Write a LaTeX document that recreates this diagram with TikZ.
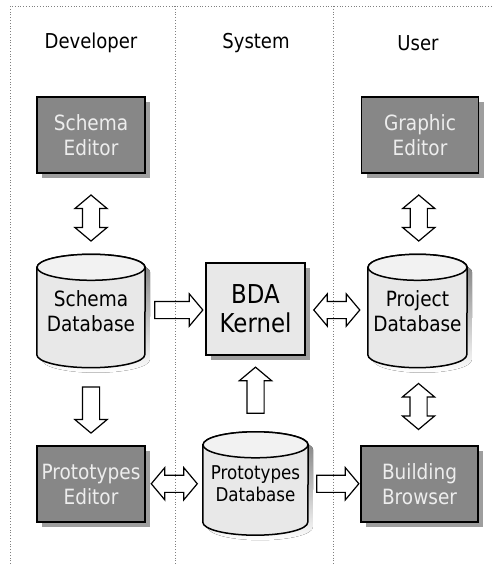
\documentclass[tikz,border=0pt]{standalone}
\usepackage{fontspec}
\setmainfont{DejaVu Sans}[FakeStretch=0.88]
\usetikzlibrary{shapes.arrows,shadows,calc}
\pgfdeclarelayer{background}
\pgfsetlayers{background,main}

\definecolor{boxdark}{gray}{0.53}
\definecolor{boxlight}{gray}{0.91}
\definecolor{boxtop}{gray}{0.95}
\definecolor{shade}{gray}{0.62}
\definecolor{labellight}{gray}{0.93}

\tikzset{
	lane/.style={gray, dotted, line width=0.8pt},
	head/.style={font=\fontsize{20.5}{24}\selectfont},
	tool/.style={draw, line width=1.5pt, fill=boxdark, text=labellight, minimum height=76pt, inner sep=0pt, align=center, font=\fontsize{21}{25}\selectfont, drop shadow={shadow xshift=5pt, shadow yshift=-5pt, fill=shade, opacity=1}},
	core/.style={tool, fill=boxlight, text=black, font=\fontsize{26}{29}\selectfont},
	store/.style={minimum width=108pt, minimum height=113pt, inner sep=0pt, align=center, font=\fontsize{21}{25}\selectfont},
	blk/.style={single arrow, draw, line width=1.2pt, minimum height=46pt, inner xsep=0pt, inner ysep=8pt, single arrow head extend=7.5pt, single arrow tip angle=100},
	dblk/.style={double arrow, draw, line width=1.2pt, minimum height=46pt, inner xsep=0pt, inner ysep=8pt, double arrow head extend=7.5pt, double arrow tip angle=100}
}

\newcommand{\dbshape}[2]{%
	\fill[shade] ([shift={(5pt,-18pt)}]#1.north west) -- ([shift={(5pt,8pt)}]#1.south west)
	arc[start angle=180, end angle=360, x radius=#2, y radius=13pt] -- ([shift={(5pt,-18pt)}]#1.north east)
	arc[start angle=0, end angle=180, x radius=#2, y radius=13pt] -- cycle;
	\draw[line width=1.5pt, fill=boxlight] ([yshift=-13pt]#1.north west) -- ([yshift=13pt]#1.south west)
	arc[start angle=180, end angle=360, x radius=#2, y radius=13pt] -- ([yshift=-13pt]#1.north east)
	arc[start angle=0, end angle=180, x radius=#2, y radius=13pt] -- cycle;
	\draw[line width=1.5pt, fill=boxtop] ([yshift=-13pt]#1.north) ellipse [x radius=#2, y radius=13pt];}

\begin{document}
\begin{tikzpicture}[x=1pt, y=-1pt]
	\useasboundingbox (0,0) rectangle (493,564);
	\draw[lane] (10,564) -- (10,6) -- (493,6);
	\draw[lane] (175,6) -- (175,564);
	\draw[lane] (333,6) -- (333,564);

	\node[head] (dev) at (91,43) {Developer};
	\node[head] (sys) at (256,43) {System};
	\node[head] (usr) at (418,43) {User};

	\node[tool, minimum width=108pt] (se) at (91,135) {Schema\\Editor};
	\node[tool, minimum width=117pt] (ge) at (420,135) {Graphic\\Editor};
	\node[store] (sdb) at (91,311) {Schema\\Database};
	\node[core, minimum width=99pt, minimum height=92pt] (kern) at (255.5,309) {BDA\\Kernel};
	\node[store, minimum width=99pt] (pdb) at (417.5,311) {Project\\Database};
	\node[tool, minimum width=108pt] (pe) at (91,484) {Prototypes\\Editor};
	\node[store, minimum width=105pt, minimum height=103pt, font=\fontsize{19}{22}\selectfont] (ptdb) at (255.5,483.5) {Prototypes\\Database};
	\node[tool, minimum width=117pt] (bb) at (419.5,484) {Building\\Browser};

	\begin{pgfonlayer}{background}
		\dbshape{sdb}{54pt}
		\dbshape{pdb}{49.5pt}
		\dbshape{ptdb}{52.5pt}
	\end{pgfonlayer}

	\node[dblk, rotate=90] (a1) at ($(se.south)!.5!(sdb.north)+(0,4)$) {};
	\node[dblk, rotate=90] (a2) at ($(ge.south)!.5!(pdb.north)+(0,4)$) {};
	\node[blk, minimum height=48pt] (a3) at ($(sdb.east)!.5!(kern.west)$) {};
	\node[dblk] (a4) at ($(kern.east)!.5!(pdb.west)$) {};
	\node[blk, rotate=-90] (a5) at ($(sdb.south)!.5!(pe.north)$) {};
	\node[blk, rotate=90] (a6) at ($(ptdb.north)!.5!(kern.south)$) {};
	\node[dblk, rotate=90] (a7) at ($(pdb.south)!.5!(bb.north)$) {};
	\node[dblk] (a8) at ($(pe.east)!.5!(ptdb.west)$) {};
	\node[blk, minimum height=42pt] (a9) at ($(ptdb.east)!.5!(bb.west)$) {};
\end{tikzpicture}
\end{document}
